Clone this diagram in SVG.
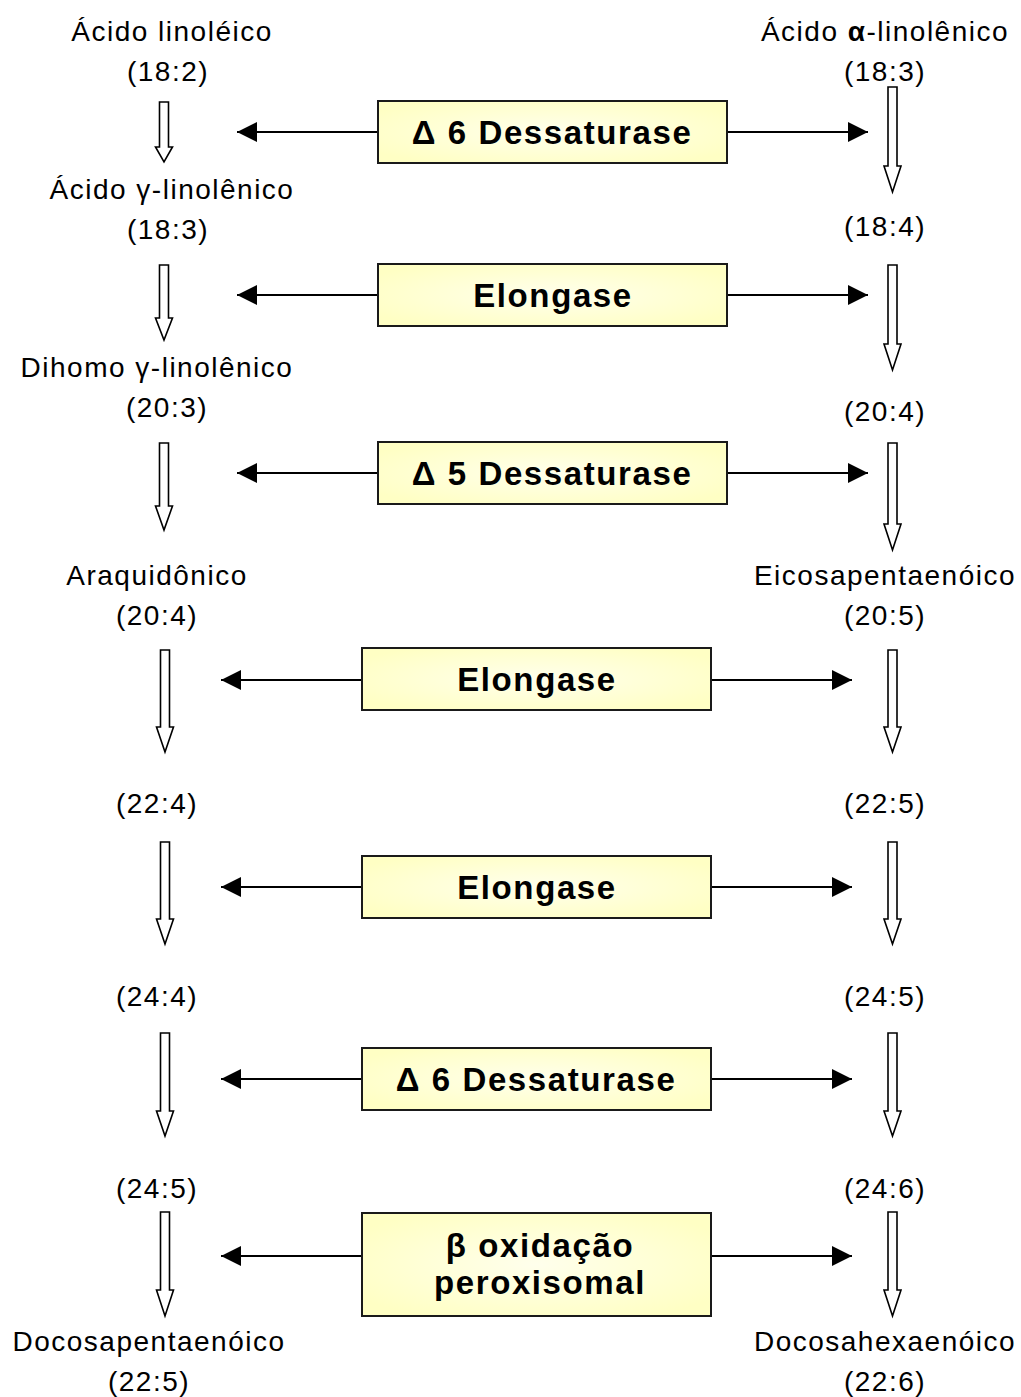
<svg xmlns="http://www.w3.org/2000/svg" width="1021" height="1397" viewBox="0 0 1021 1397">
<style>
.lbl{font-family:"Liberation Sans",Arial,sans-serif;font-size:28px;letter-spacing:1.5px;fill:#000;text-anchor:middle}
.box{fill:url(#bg);stroke:#1a1a1a;stroke-width:2}
.btxt{font-family:"Liberation Sans",Arial,sans-serif;font-size:33px;font-weight:bold;letter-spacing:1.6px;fill:#000;text-anchor:middle}
.hol{fill:#fff;stroke:#000;stroke-width:1.6;stroke-linejoin:miter}
.con{stroke:#000;stroke-width:2;fill:none;marker-end:url(#ah)}
</style>
<defs>
<radialGradient id="bg" cx="50%" cy="50%" r="60%">
<stop offset="0" stop-color="#FFFFEC"/>
<stop offset="1" stop-color="#FFFFC4"/>
</radialGradient>
<marker id="ah" markerUnits="userSpaceOnUse" markerWidth="20" markerHeight="20" refX="20" refY="10" orient="auto">
<path d="M0,0 L20,10 L0,20 Z" fill="#000"/>
</marker>
</defs>
<rect width="1021" height="1397" fill="#fff"/>

<g id="labels-left">
<text class="lbl" x="172" y="41">Ácido linoléico</text>
<text class="lbl" x="168" y="81">(18:2)</text>
<text class="lbl" x="172" y="199">Ácido γ-linolênico</text>
<text class="lbl" x="168" y="239">(18:3)</text>
<text class="lbl" x="157" y="377">Dihomo γ-linolênico</text>
<text class="lbl" x="167" y="417">(20:3)</text>
<text class="lbl" x="157" y="585">Araquidônico</text>
<text class="lbl" x="157" y="625">(20:4)</text>
<text class="lbl" x="157" y="813">(22:4)</text>
<text class="lbl" x="157" y="1006">(24:4)</text>
<text class="lbl" x="157" y="1198">(24:5)</text>
<text class="lbl" x="149" y="1351">Docosapentaenóico</text>
<text class="lbl" x="149" y="1391">(22:5)</text>
</g>
<g id="labels-right">
<text class="lbl" x="885" y="41">Ácido <tspan font-weight="bold">α</tspan>-linolênico</text>
<text class="lbl" x="885" y="81">(18:3)</text>
<text class="lbl" x="885" y="236">(18:4)</text>
<text class="lbl" x="885" y="421">(20:4)</text>
<text class="lbl" x="885" y="585">Eicosapentaenóico</text>
<text class="lbl" x="885" y="625">(20:5)</text>
<text class="lbl" x="885" y="813">(22:5)</text>
<text class="lbl" x="885" y="1006">(24:5)</text>
<text class="lbl" x="885" y="1198">(24:6)</text>
<text class="lbl" x="885" y="1351">Docosahexaenóico</text>
<text class="lbl" x="885" y="1391">(22:6)</text>
</g>

<g id="flow-arrows">
<path class="hol" d="M159.5,102 H168.5 V147 H172.5 L164,162 L155.5,147 H159.5 Z"/>
<path class="hol" d="M159.5,265 H168.5 V318 H172.5 L164,340 L155.5,318 H159.5 Z"/>
<path class="hol" d="M159.5,443 H168.5 V506 H172.5 L164,530 L155.5,506 H159.5 Z"/>
<path class="hol" d="M160.5,650 H169.5 V727 H173.5 L165,752 L156.5,727 H160.5 Z"/>
<path class="hol" d="M160.5,842 H169.5 V919 H173.5 L165,944 L156.5,919 H160.5 Z"/>
<path class="hol" d="M160.5,1033 H169.5 V1111 H173.5 L165,1136 L156.5,1111 H160.5 Z"/>
<path class="hol" d="M160.5,1212 H169.5 V1290 H173.5 L165,1316 L156.5,1290 H160.5 Z"/>
<path class="hol" d="M888,87 H897 V166 H901 L892.5,192 L884,166 H888 Z"/>
<path class="hol" d="M888,265 H897 V344 H901 L892.5,370 L884,344 H888 Z"/>
<path class="hol" d="M888,443 H897 V524 H901 L892.5,550 L884,524 H888 Z"/>
<path class="hol" d="M888,650 H897 V727 H901 L892.5,752 L884,727 H888 Z"/>
<path class="hol" d="M888,842 H897 V919 H901 L892.5,944 L884,919 H888 Z"/>
<path class="hol" d="M888,1033 H897 V1111 H901 L892.5,1136 L884,1111 H888 Z"/>
<path class="hol" d="M888,1212 H897 V1290 H901 L892.5,1316 L884,1290 H888 Z"/>
</g>

<g id="connectors">
<line class="con" x1="378" y1="132" x2="237" y2="132"/>
<line class="con" x1="727" y1="132" x2="868" y2="132"/>
<line class="con" x1="378" y1="295" x2="237" y2="295"/>
<line class="con" x1="727" y1="295" x2="868" y2="295"/>
<line class="con" x1="378" y1="473" x2="237" y2="473"/>
<line class="con" x1="727" y1="473" x2="868" y2="473"/>
<line class="con" x1="362" y1="680" x2="221" y2="680"/>
<line class="con" x1="711" y1="680" x2="852" y2="680"/>
<line class="con" x1="362" y1="887" x2="221" y2="887"/>
<line class="con" x1="711" y1="887" x2="852" y2="887"/>
<line class="con" x1="362" y1="1079" x2="221" y2="1079"/>
<line class="con" x1="711" y1="1079" x2="852" y2="1079"/>
<line class="con" x1="362" y1="1256" x2="221" y2="1256"/>
<line class="con" x1="711" y1="1256" x2="852" y2="1256"/>
</g>

<g id="enzyme1">
<rect class="box" x="378" y="101" width="349" height="62"/>
<text class="btxt" x="552" y="144">Δ 6 Dessaturase</text>
</g>
<g id="enzyme2">
<rect class="box" x="378" y="264" width="349" height="62"/>
<text class="btxt" x="553" y="307">Elongase</text>
</g>
<g id="enzyme3">
<rect class="box" x="378" y="442" width="349" height="62"/>
<text class="btxt" x="552" y="485">Δ 5 Dessaturase</text>
</g>
<g id="enzyme4">
<rect class="box" x="362" y="648" width="349" height="62"/>
<text class="btxt" x="537" y="691">Elongase</text>
</g>
<g id="enzyme5">
<rect class="box" x="362" y="856" width="349" height="62"/>
<text class="btxt" x="537" y="899">Elongase</text>
</g>
<g id="enzyme6">
<rect class="box" x="362" y="1048" width="349" height="62"/>
<text class="btxt" x="536" y="1091">Δ 6 Dessaturase</text>
</g>
<g id="enzyme7">
<rect class="box" x="362" y="1213" width="349" height="103"/>
<text class="btxt" x="540" y="1257">β oxidação</text>
<text class="btxt" x="540" y="1294">peroxisomal</text>
</g>
</svg>
